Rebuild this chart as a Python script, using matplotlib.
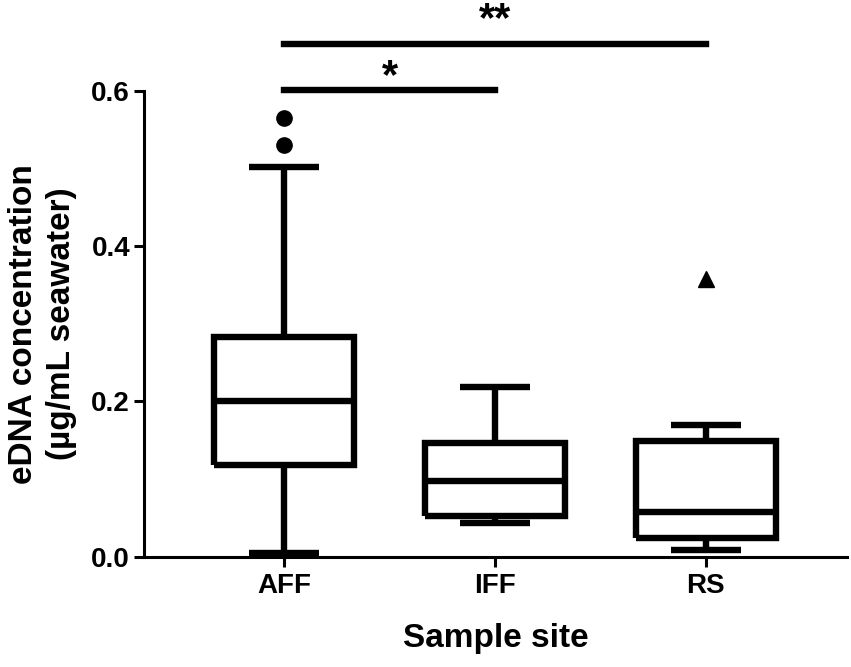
import matplotlib
matplotlib.use("Agg")
import matplotlib.pyplot as plt

plt.rcParams['font.family'] = ['Liberation Sans', 'DejaVu Sans']
plt.rcParams['font.weight'] = 'bold'

# box statistics (ug/mL seawater)
sites = ["AFF", "IFF", "RS"]
whisker_low = [0.005, 0.044, 0.009]
q1 = [0.118, 0.053, 0.024]
median = [0.201, 0.098, 0.058]
q3 = [0.283, 0.147, 0.149]
whisker_high = [0.502, 0.218, 0.169]
outliers = [[0.53, 0.565], [], [0.357]]
outlier_markers = ["o", "o", "^"]

# significance brackets
sig_from = [0, 0]
sig_to = [1, 2]
sig_height = [0.601, 0.660]
sig_label = ["*", "**"]
sig_label_y = [0.618, 0.691]

LW = 4.6

fig = plt.figure(figsize=(8.51, 6.67), dpi=100)
ax = fig.add_axes([0.1692, 0.1654, 0.8261, 0.6986])

stats = []
for i, name in enumerate(sites):
    stats.append(dict(label=name, whislo=whisker_low[i], q1=q1[i], med=median[i],
                      q3=q3[i], whishi=whisker_high[i], fliers=outliers[i]))

line_kw = dict(color="black", linewidth=LW, solid_joinstyle="miter", solid_capstyle="butt")
res = ax.bxp(stats, positions=range(len(sites)), widths=0.665, capwidths=0.33,
             boxprops=line_kw, medianprops=line_kw, whiskerprops=line_kw,
             capprops=dict(color="black", linewidth=LW, solid_capstyle="butt"),
             flierprops=dict(marker="o", markerfacecolor="black", markeredgecolor="black",
                             markersize=11, linestyle="none"))
for fl, mk in zip(res['fliers'], outlier_markers):
    fl.set_marker(mk)
    if mk == "^":
        fl.set_markersize(12)

for a, b, h, lab, ly in zip(sig_from, sig_to, sig_height, sig_label, sig_label_y):
    ax.plot([a, b], [h, h], color="black", linewidth=LW,
            solid_capstyle="projecting", clip_on=False)
    ax.text((a + b) / 2, ly, lab, ha="center", va="center",
            fontsize=30, fontweight="bold", clip_on=False)

ax.set_xlim(-0.665, 2.67)
ax.set_ylim(0, 0.6)
ax.set_yticks([0.0, 0.2, 0.4, 0.6])
ax.set_yticklabels(["0.0", "0.2", "0.4", "0.6"])
ax.set_xticks(range(len(sites)))
ax.set_xticklabels(sites)

for s in ["top", "right"]:
    ax.spines[s].set_visible(False)
for s in ["left", "bottom"]:
    ax.spines[s].set_linewidth(2.2)

ax.tick_params(axis="both", direction="out", length=7, width=2.2)
ax.tick_params(axis="x", labelsize=20, pad=5)
ax.tick_params(axis="y", labelsize=20, pad=3)

ax.set_xlabel("Sample site", fontsize=24, fontweight="bold", labelpad=17)
ax.set_ylabel("eDNA concentration\n(\u00b5g/mL seawater)", fontsize=24,
              fontweight="bold", linespacing=1.3)
ax.yaxis.set_label_coords(-0.095, 0.5)

fig.savefig("out.png", dpi=100)
